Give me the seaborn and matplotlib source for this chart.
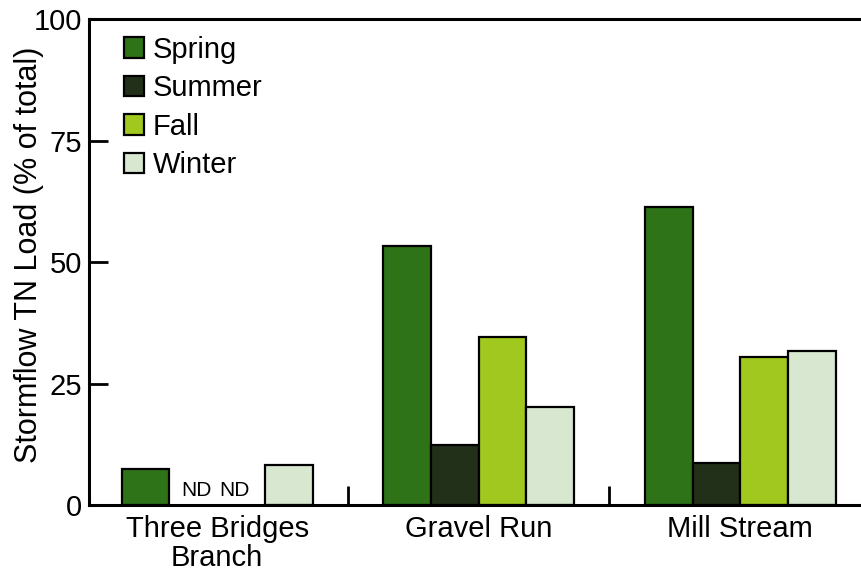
import numpy as np
import pandas as pd
import matplotlib
matplotlib.use("Agg")
import matplotlib.pyplot as plt
import seaborn as sns

# values (% of total stormflow TN load); NaN = no data
sites = ["Three Bridges\nBranch", "Gravel Run", "Mill Stream"]
seasons = ["Spring", "Summer", "Fall", "Winter"]
spring = [7.4, 53.3, 61.3]
summer = [np.nan, 12.3, 8.6]
fall = [np.nan, 34.6, 30.5]
winter = [8.2, 20.2, 31.7]
colors = ["#2e7318", "#233019", "#a0c81e", "#d8e8d0"]

df = pd.DataFrame({"site": sites, "Spring": spring, "Summer": summer,
                   "Fall": fall, "Winter": winter})
df = df.melt(id_vars="site", var_name="season", value_name="load")

sns.set_style("ticks", {"text.color": "black", "axes.labelcolor": "black",
                        "xtick.color": "black", "ytick.color": "black",
                        "axes.edgecolor": "black"})
plt.rcParams["font.family"] = ["Liberation Sans", "DejaVu Sans"]

fig = plt.figure(figsize=(8.62, 5.71), dpi=100)
ax = fig.add_axes([0.1032, 0.1156, 0.897, 0.851])

width = 0.73
sns.barplot(data=df, x="site", y="load", hue="season", order=sites,
            hue_order=seasons, palette=colors, saturation=1, width=width,
            gap=0, edgecolor="black", linewidth=1.6, errorbar=None, ax=ax)

# "ND" labels for missing bars
step = width / len(seasons)
for i, s in enumerate(sites):
    for j, season in enumerate(seasons):
        v = df[(df.site == s) & (df.season == season)].load.iloc[0]
        if np.isnan(v):
            x = i + (j - (len(seasons) - 1) / 2) * step
            off = 0.012 if j < 2 else -0.025
            ax.text(x + off, 1.0, "ND", ha="center", va="bottom", fontsize=15)

ax.set_ylim(0, 100)
ax.set_xlim(-0.49, 2.466)
ax.set_yticks([0, 25, 50, 75, 100])
ax.tick_params(axis="y", direction="in", length=14, width=2, labelsize=21, pad=5)
ax.tick_params(axis="x", which="major", length=0, labelsize=21, pad=7)
ax.set_xticks([0.5, 1.5], minor=True)
ax.tick_params(axis="x", which="minor", direction="in", length=14, width=2)
for lab in ax.get_xticklabels():
    lab.set_linespacing(1.05)
ax.set_xlabel("")
ax.set_ylabel("Stormflow TN Load (% of total)", fontsize=22)
ax.yaxis.set_label_coords(-0.058, 0.515)

for side in ["left", "bottom", "top"]:
    ax.spines[side].set_linewidth(2.2)
ax.spines["right"].set_visible(False)

leg = ax.legend(loc="upper left", frameon=False, fontsize=21,
                handlelength=0.7, handleheight=0.7, handletextpad=0.3,
                labelspacing=0.36, borderaxespad=0.0,
                bbox_to_anchor=(0.03, 0.99))

fig.savefig("out.png", dpi=100)
